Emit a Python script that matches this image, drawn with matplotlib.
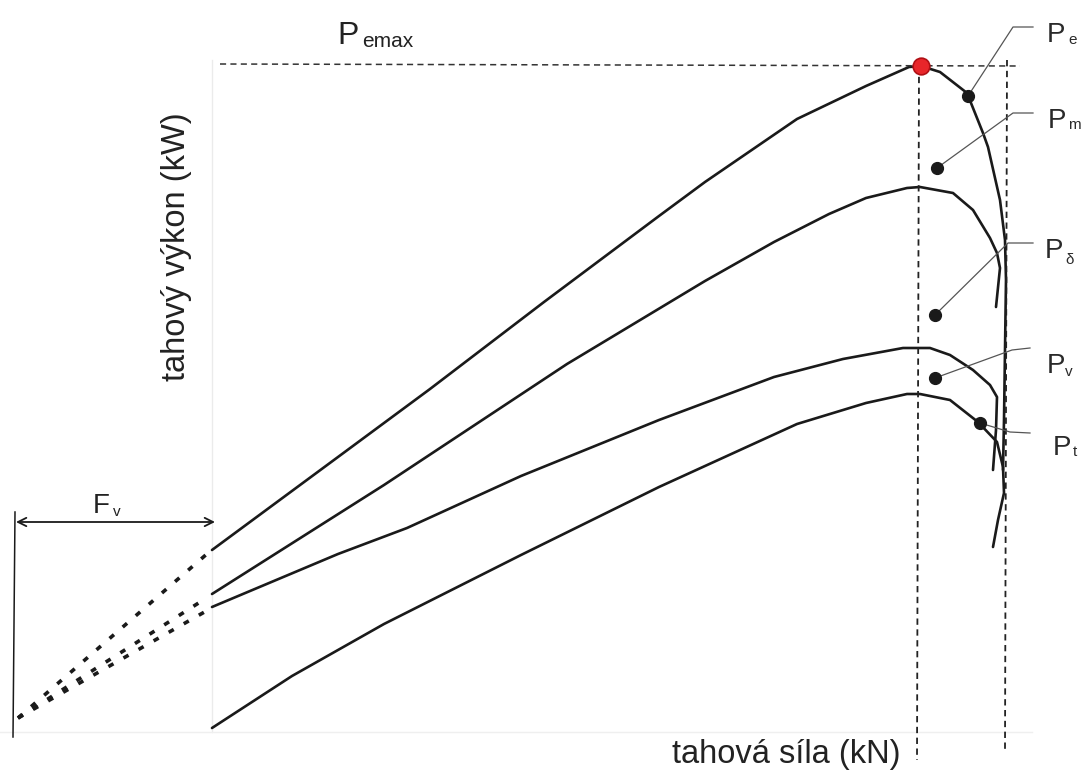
import matplotlib.pyplot as plt
import numpy as np

plt.rcParams["font.family"] = ["Liberation Sans", "DejaVu Sans"]

# Curve points (tahová síla, tahový výkon) in arbitrary chart units
pe_F = [0, 12.6, 21.8, 33.2, 44.7, 49.3, 58.5, 65.4, 69.7, 70.9,
        72.8, 75.5, 77.1, 77.6, 78.8, 79.3, 79.4, 79.3, 79.2, 79.1]
pe_P = [18.0, 27.3, 34.1, 42.8, 51.4, 54.8, 61.1, 64.4, 66.3, 66.4,
        65.8, 63.7, 59.7, 58.3, 53.0, 49.0, 45.0, 38.0, 31.0, 26.0]

pm_F = [0, 17.2, 35.5, 49.3, 56.2, 61.7, 65.4, 69.5, 70.8, 74.1, 76.1, 77.8, 78.5, 78.8, 78.4]
pm_P = [13.6, 24.5, 36.6, 44.9, 48.8, 51.6, 53.2, 54.2, 54.3, 53.7, 52.0, 49.2, 47.7, 46.2, 42.3]

pd_F = [0, 12.6, 19.5, 30.9, 44.7, 56.2, 63.1, 69.1, 71.8, 73.8, 76.1, 77.8, 78.5, 78.4, 78.1]
pd_P = [12.3, 17.6, 20.2, 25.4, 31.0, 35.3, 37.1, 38.2, 38.2, 37.5, 36.0, 34.5, 33.3, 30.0, 26.0]

pt_F = [0, 8.0, 17.2, 30.9, 44.7, 49.3, 58.5, 65.4, 69.5, 70.8, 73.8, 76.6, 78.5, 79.1, 79.2, 78.6, 78.1]
pt_P = [0.2, 5.4, 10.6, 17.5, 24.3, 26.4, 30.6, 32.7, 33.6, 33.6, 33.0, 30.8, 28.8, 26.3, 23.7, 21.0, 18.3]

# extrapolated (dashed) part: common point at -Fv
F_v = 19.4
P_v0 = 1.2
F_max = 79.3

# loss labels: name, subscript, marker dot, leader elbow, leader end, label pos
labels = ["P", "P", "P", "P", "P"]
subs = ["e", "m", "δ", "v", "t"]
dot_F = [75.6, 72.5, 72.3, 72.3, 76.8]
dot_P = [63.4, 56.2, 41.5, 35.2, 30.7]
elbow_F = [80.1, 80.1, 79.6, 80.0, 79.8]
elbow_P = [70.3, 61.7, 48.7, 38.0, 29.8]
end_F = [82.1, 82.1, 82.1, 81.8, 81.8]
end_P = [70.3, 61.7, 48.7, 38.2, 29.7]
lab_F = [83.5, 83.6, 83.3, 83.5, 84.1]
lab_P = [68.8, 60.2, 47.2, 35.7, 27.5]
sub_F = [85.6, 85.6, 85.3, 85.3, 86.1]
sub_P = [68.6, 60.1, 46.6, 35.4, 27.4]

fig = plt.figure(figsize=(10.88, 7.78), dpi=100)
ax = fig.add_axes([0, 0, 1, 1])
ax.set_xlim(-21.2, 87.6)
ax.set_ylim(-4.8, 73.0)
ax.axis("off")

ink = "#1a1a1a"

# faint axes of the scan
ax.plot([0, 0], [-0.2, 67.0], color="#ebebeb", lw=1.0)
ax.plot([-21.2, 82], [-0.2, -0.2], color="#efefef", lw=1.0)

# curves
for F, P in [(pe_F, pe_P), (pm_F, pm_P), (pd_F, pd_P), (pt_F, pt_P)]:
    ax.plot(F, P, color=ink, lw=1.9, solid_capstyle="round", solid_joinstyle="round")

# dashed extrapolation to -Fv
for F, P in [(pe_F, pe_P), (pm_F, pm_P), (pd_F, pd_P)]:
    ax.plot([-F_v, F[0] - 0.4], [P_v0, P[0] - 0.3], color=ink, lw=2.6, dashes=(1.6, 3.2))

# Pemax reference lines
i_max = int(np.argmax(pe_P))
F_pk, P_pk = pe_F[i_max], pe_P[i_max]
ax.plot([0.8, F_max + 1.5], [P_pk + 0.2, P_pk], color="#333333", lw=1.1, dashes=(4, 2.8))
ax.plot([F_pk - 0.2, F_pk - 0.4], [P_pk, -3.0], color="#222222", lw=1.3, dashes=(3.5, 2.5))
ax.plot([F_max + 0.2, F_max], [67.0, -2.0], color="#222222", lw=1.3, dashes=(3.5, 2.5))
ax.plot(F_pk, P_pk, "o", ms=12, mfc="#e8262a", mec="#b01015", mew=1.2, zorder=5)

# Fv dimension
ax.plot([-F_v - 0.3, -F_v - 0.5], [21.8, -0.7], color=ink, lw=1.1)
ax.annotate("", xy=(-F_v - 0.2, 20.8), xytext=(0.3, 20.8),
            arrowprops=dict(arrowstyle="<->,head_length=0.6,head_width=0.3", color=ink,
                            lw=1.3, shrinkA=0, shrinkB=0))
ax.text(-11.9, 21.7, "F", fontsize=20, color="#222222", va="baseline")
ax.text(-9.9, 21.4, "v", fontsize=11, color="#222222", va="baseline")

# leaders and labels
for i in range(len(subs)):
    ax.plot([dot_F[i], elbow_F[i], end_F[i]], [dot_P[i], elbow_P[i], end_P[i]],
            color="#555555", lw=0.9)
    ax.plot(dot_F[i], dot_P[i], "o", ms=8.5, color=ink, zorder=4)
    ax.text(lab_F[i], lab_P[i], labels[i], fontsize=20, color="#2a2a2a", va="baseline")
    ax.text(sub_F[i], sub_P[i], subs[i], fontsize=11, color="#2a2a2a", va="baseline")

ax.text(12.5, 68.6, "P", fontsize=23, color="#222222", va="baseline")
ax.text(15.0, 68.3, "emax", fontsize=15, color="#222222", va="baseline")

# axis titles
ax.text(-3.6, 48.3, "tahový výkon (kW)", fontsize=23.5, color="#222222",
        rotation=90, ha="center", va="center")
ax.text(57.4, -2.5, "tahová síla (kN)", fontsize=23.5, color="#222222",
        ha="center", va="center")

plt.savefig("out.png", dpi=100)
